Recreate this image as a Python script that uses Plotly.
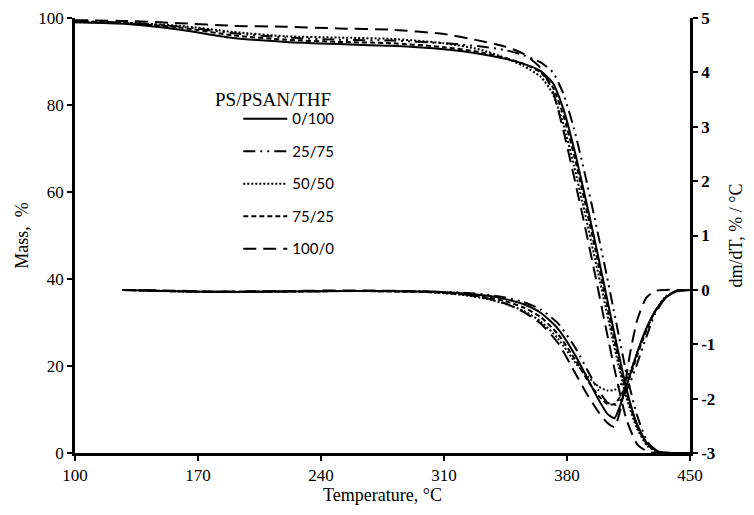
import plotly.graph_objects as go

# ---------------- data ----------------
series_names = ["0/100", "25/75", "50/50", "75/25", "100/0"]
legend_title = "PS/PSAN/THF"

# Thermogravimetric curves (mass, %)
T_tga = [100, 130, 160, 190, 220, 250, 280, 310, 330, 345, 355, 365, 372, 378,
         384, 390, 396, 402, 408, 414, 420, 426, 432, 440, 450]
mass_0_100 = [99.0, 98.6, 97.3, 95.4, 94.5, 94.0, 93.6, 92.8, 91.8, 90.6, 89.5, 87.8, 85.0, 79.0,
              70.0, 59.5, 48.5, 37.0, 25.5, 14.5, 6.5, 2.0, 0.3, 0, 0]
mass_25_75 = [99.3, 98.9, 98.0, 96.5, 95.5, 95.0, 94.8, 94.2, 93.5, 92.6, 91.5, 89.8, 87.5, 82.5,
              74.5, 64.5, 53.5, 42.0, 30.0, 18.0, 8.5, 2.5, 0.3, 0, 0]
mass_50_50 = [99.0, 98.9, 98.2, 96.8, 95.8, 95.5, 95.2, 94.2, 92.8, 90.8, 89.0, 86.5, 82.5, 75.5,
              66.0, 55.5, 44.5, 33.5, 22.5, 12.5, 5.5, 1.5, 0.2, 0, 0]
mass_75_25 = [99.2, 98.8, 97.8, 96.0, 95.0, 94.5, 94.2, 93.3, 92.2, 90.8, 89.5, 87.5, 84.0, 77.5,
              68.5, 58.0, 47.0, 35.5, 24.0, 13.5, 6.0, 1.8, 0.3, 0, 0]
mass_100_0 = [99.5, 99.3, 98.8, 98.2, 98.0, 97.6, 97.3, 96.3, 94.8, 93.4, 91.8, 88.5, 83.0, 74.0,
              63.5, 52.5, 41.0, 29.0, 17.5, 7.5, 2.0, 0.3, 0, 0, 0]

# Derivative curves (dm/dT, % / °C)
T_dtg = [127, 150, 180, 220, 260, 300, 320, 335, 345, 355, 365, 375, 385, 392, 398,
         403, 407, 410, 413, 416, 420, 425, 430, 436, 442, 450]
dtg_0_100 = [0, -0.02, -0.04, -0.03, -0.02, -0.03, -0.06, -0.11, -0.17, -0.26, -0.42, -0.72, -1.22,
             -1.65, -2.02, -2.28, -2.36, -2.15, -1.85, -1.55, -1.15, -0.72, -0.40, -0.15, -0.03, 0]
dtg_25_75 = [0, -0.02, -0.03, -0.03, -0.02, -0.03, -0.05, -0.09, -0.14, -0.22, -0.36, -0.62, -1.08,
             -1.50, -1.85, -2.07, -2.12, -2.05, -1.90, -1.70, -1.35, -0.88, -0.45, -0.15, -0.02, 0]
dtg_50_50 = [0, -0.02, -0.04, -0.03, -0.02, -0.04, -0.09, -0.17, -0.26, -0.38, -0.58, -0.90, -1.35,
             -1.60, -1.78, -1.85, -1.84, -1.76, -1.65, -1.50, -1.15, -0.74, -0.40, -0.13, -0.02, 0]
dtg_75_25 = [0, -0.02, -0.04, -0.03, -0.02, -0.04, -0.08, -0.14, -0.21, -0.32, -0.50, -0.82, -1.30,
             -1.68, -1.95, -2.10, -2.10, -1.98, -1.80, -1.58, -1.20, -0.76, -0.40, -0.14, -0.02, 0]
dtg_100_0 = [0, -0.01, -0.03, -0.02, -0.01, -0.03, -0.08, -0.16, -0.25, -0.40, -0.62, -0.98, -1.55,
             -1.95, -2.25, -2.45, -2.52, -2.25, -1.75, -1.15, -0.55, -0.15, -0.02, 0, 0, 0]

x_ticks = [100, 170, 240, 310, 380, 450]
mass_ticks = [0, 20, 40, 60, 80, 100]
dtg_ticks = [-3, -2, -1, 0, 1, 2, 3, 4, 5]

# ---------------- styling ----------------
dashes = ["solid", "12px,5px,2px,5px,2px,5px", "2px,2px", "5px,3px", "13px,7px"]
mass_sets = [mass_0_100, mass_25_75, mass_50_50, mass_75_25, mass_100_0]
dtg_sets = [dtg_0_100, dtg_25_75, dtg_50_50, dtg_75_25, dtg_100_0]

SERIF = "Liberation Serif"
fig = go.Figure()
for name, dash, m in zip(series_names, dashes, mass_sets):
    fig.add_trace(go.Scatter(x=T_tga, y=m, mode="lines", name=name, legendgroup=name,
                             line=dict(color="black", width=2, dash=dash, shape="spline", smoothing=0.6)))
for name, dash, d in zip(series_names, dashes, dtg_sets):
    fig.add_trace(go.Scatter(x=T_dtg, y=d, mode="lines", name=name, legendgroup=name, showlegend=False,
                             yaxis="y2",
                             line=dict(color="black", width=2, dash=dash, shape="spline", smoothing=0.6)))

axis_common = dict(showgrid=False, zeroline=False, showline=True, linecolor="black", linewidth=2.5,
                   ticks="outside", ticklen=5, tickwidth=2, tickcolor="black", automargin=False)

# page body has an 8px default margin, so the figure is sized to fit the window
fig.update_layout(
    width=746, height=507,
    margin=dict(l=67, r=64, t=10, b=62),
    paper_bgcolor="white", plot_bgcolor="white",
    showlegend=True,
    legend=dict(x=0.2655, y=0.806, xanchor="left", yanchor="top", bgcolor="rgba(0,0,0,0)",
                font=dict(family="Lato", size=15, color="black"),
                itemwidth=44,
                traceorder="grouped", tracegroupgap=10),
    annotations=[dict(text=legend_title, x=0.322, y=0.812, xref="paper", yref="paper",
                      xanchor="center", yanchor="middle", showarrow=False,
                      font=dict(family=SERIF, size=19, color="black"))],
    xaxis=dict(range=[100, 450], tickvals=x_ticks,
               title=dict(text="Temperature, °C", font=dict(family=SERIF, size=18, color="black"), standoff=5),
               tickfont=dict(family=SERIF, size=17, color="black"), **axis_common),
    yaxis=dict(range=[0, 100], tickvals=mass_ticks,
               title=dict(text="Mass,\u00a0 %", font=dict(family=SERIF, size=18, color="black"), standoff=6),
               tickfont=dict(family=SERIF, size=17, color="black"), **axis_common),
    yaxis2=dict(range=[-3, 5], tickvals=dtg_ticks, ticktext=[f"<b>{v}</b>" for v in dtg_ticks],
                overlaying="y", side="right",
                title=dict(text="dm/dT, % / °C", font=dict(family=SERIF, size=18, color="black"), standoff=16),
                tickfont=dict(family=SERIF, size=17, color="black"), **axis_common),
)

fig.write_html("out.html")
